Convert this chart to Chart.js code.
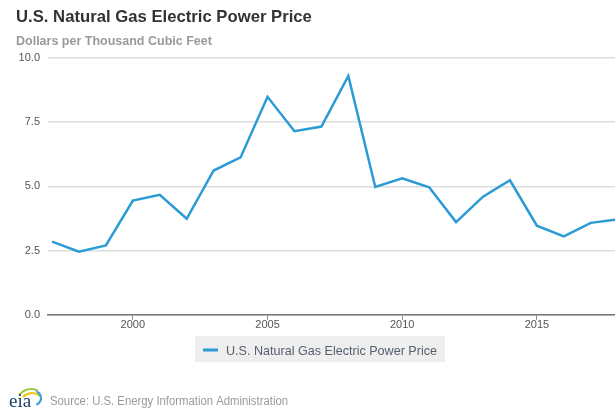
<!DOCTYPE html>
<html>
<head>
<meta charset="utf-8">
<script src="https://cdn.jsdelivr.net/npm/chart.js@4.4.0/dist/chart.umd.min.js"></script>
<style>
  html, body { margin: 0; padding: 0; background: #fff; }
</style>
</head>
<body>
<canvas id="line-chart" width="615" height="412"></canvas>
<script>
// data
var years = [1997, 1998, 1999, 2000, 2001, 2002, 2003, 2004, 2005, 2006, 2007,
             2008, 2009, 2010, 2011, 2012, 2013, 2014, 2015, 2016, 2017, 2018];
var prices = [2.85, 2.46, 2.70, 4.45, 4.67, 3.74, 5.62, 6.13, 8.49, 7.15, 7.33,
              9.30, 4.98, 5.32, 4.97, 3.61, 4.60, 5.24, 3.47, 3.05, 3.58, 3.72];
var xTicks = [2000, 2005, 2010, 2015];
var yTicks = [0, 2.5, 5, 7.5, 10];
var seriesLabel = 'U.S. Natural Gas Electric Power Price';
var titleText = 'U.S. Natural Gas Electric Power Price';
var subtitleText = 'Dollars per Thousand Cubic Feet';
var sourceText = 'Source: U.S. Energy Information Administration';

var FONT = '"Liberation Sans", Arial, Helvetica, sans-serif';

// legend box + source line, drawn under the chart
var extras = {
  id: 'extras',
  afterDraw: function(chart) {
    var ctx = chart.ctx;
    var ds = chart.data.datasets[0];
    ctx.save();

    // legend
    var lx = 195, ly = 336, lw = 250, lh = 26;
    ctx.fillStyle = '#eeeeee';
    ctx.fillRect(lx, ly, lw, lh);
    ctx.strokeStyle = ds.borderColor;
    ctx.lineWidth = 3;
    ctx.beginPath();
    ctx.moveTo(lx + 8, ly + 14);
    ctx.lineTo(lx + 23, ly + 14);
    ctx.stroke();
    ctx.fillStyle = '#56606c';
    ctx.font = '13px ' + FONT;
    ctx.textBaseline = 'middle';
    ctx.textAlign = 'left';
    ctx.fillText(ds.label, lx + 31, ly + 15, 211);

    // eia logo (rough)
    ctx.lineCap = 'round';
    ctx.lineWidth = 2.2;
    ctx.strokeStyle = '#9ccc45';
    ctx.beginPath(); ctx.arc(31, 404, 15, Math.PI * 1.22, Math.PI * 1.62); ctx.stroke();
    ctx.strokeStyle = '#f0c419';
    ctx.beginPath(); ctx.arc(32, 405, 12, Math.PI * 1.25, Math.PI * 1.7); ctx.stroke();
    ctx.strokeStyle = '#3aa0d8';
    ctx.beginPath(); ctx.arc(34, 398, 7, Math.PI * 1.65, Math.PI * 2.35); ctx.stroke();
    ctx.fillStyle = '#1d3f6e';
    ctx.font = '19px "Liberation Serif", "DejaVu Serif", serif';
    ctx.textBaseline = 'alphabetic';
    ctx.fillText('eia', 9, 407, 30);

    // source
    ctx.fillStyle = '#9a9a9a';
    ctx.font = '12px ' + FONT;
    ctx.textBaseline = 'middle';
    ctx.fillText(sourceText, 50, 402, 238);
    ctx.restore();
  }
};

new Chart(document.getElementById('line-chart'), {
  type: 'line',
  data: {
    datasets: [{
      label: seriesLabel,
      data: years.map(function(y, i) { return { x: y, y: prices[i] }; }),
      borderColor: '#2a9bd5',
      borderWidth: 2.5,
      pointRadius: 0,
      pointHoverRadius: 0,
      tension: 0,
      fill: false
    }]
  },
  options: {
    responsive: false,
    animation: false,
    layout: { padding: { left: 16, right: 0, top: 0, bottom: 81 } },
    plugins: {
      legend: { display: false },
      tooltip: { enabled: false },
      title: {
        display: true,
        text: titleText,
        align: 'start',
        color: '#333333',
        font: { family: FONT, size: 16.7, weight: 'bold' },
        padding: { top: 7, bottom: 6 }
      },
      subtitle: {
        display: true,
        text: subtitleText,
        align: 'start',
        color: '#9a9a9a',
        font: { family: FONT, size: 12.5, weight: 'bold' },
        padding: { top: 1, bottom: 9 }
      }
    },
    scales: {
      x: {
        type: 'linear',
        min: 1996.85,
        max: 2017.9,
        afterBuildTicks: function(s) {
          s.ticks = xTicks.map(function(v) { return { value: v }; });
        },
        ticks: {
          color: '#555555',
          font: { family: FONT, size: 11 },
          padding: -1,
          maxRotation: 0,
          callback: function(v) { return String(v); }
        },
        grid: { drawOnChartArea: false, drawTicks: true, tickLength: 5, color: '#888888' },
        border: { display: true, color: '#777777', width: 1.5 }
      },
      y: {
        min: 0,
        max: 10,
        afterBuildTicks: function(s) {
          s.ticks = yTicks.map(function(v) { return { value: v }; });
        },
        afterFit: function(s) { s.width = 32; },
        ticks: {
          color: '#555555',
          font: { family: FONT, size: 11 },
          padding: 8,
          callback: function(v) { return v.toFixed(1); }
        },
        grid: { color: '#dddddd', lineWidth: 1.5, drawTicks: false },
        border: { display: false }
      }
    }
  },
  plugins: [extras]
});
</script>
</body>
</html>
